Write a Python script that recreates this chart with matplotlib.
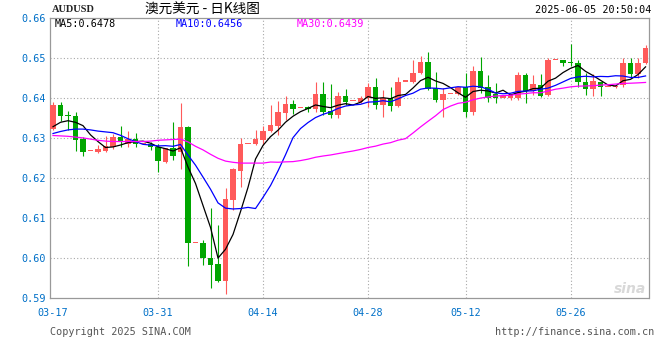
import matplotlib.pyplot as plt
import numpy as np
import pandas as pd

# daily candles, 03-17 .. 06-05 (weekend rows included, as on the chart)
opens = [
    .6323, .6383, .6359, .6357, .6298, .6268, .6266, .6269, .6278, .6304,
    .6285, .6298, .6286, .6287, .6278, .6242, .6277, .6265, .6327, .6038,
    .6038, .6002, .5986, .5944, .6146, .6219, .6286, .6285, .6296, .6318,
    .6332, .6363, .6386, .6375, .6378, .6373, .6410, .6368, .6358, .6406,
    .6393, .6392, .6400, .6429, .6383, .6400, .6381, .6442, .6442, .6463,
    .6492, .6425, .6396, .6411, .6411, .6429, .6367, .6468, .6429, .6410,
    .6402, .6400, .6402, .6458, .6418, .6433, .6408, .6496, .6495, .6492,
    .6488, .6442, .6423, .6440, .6429, .6428, .6433, .6489, .6460, .6489,
]
highs = [
    .6392, .6391, .6368, .6366, .6304, .6268, .6283, .6306, .6312, .6331,
    .6318, .6314, .6286, .6292, .6285, .6276, .6340, .6389, .6331, .6038,
    .6046, .6127, .6083, .6177, .6225, .6300, .6286, .6321, .6331, .6383,
    .6394, .6405, .6397, .6375, .6381, .6440, .6440, .6436, .6415, .6423,
    .6393, .6407, .6438, .6452, .6421, .6429, .6454, .6442, .6496, .6506,
    .6517, .6465, .6425, .6411, .6429, .6463, .6482, .6503, .6458, .6438,
    .6402, .6410, .6467, .6463, .6458, .6460, .6500, .6496, .6496, .6537,
    .6496, .6463, .6460, .6442, .6429, .6433, .6502, .6502, .6502, .6533,
]
lows = [
    .6321, .6343, .6321, .6268, .6257, .6268, .6263, .6266, .6273, .6279,
    .6279, .6279, .6286, .6270, .6217, .6239, .6246, .6223, .5982, .6038,
    .5983, .5927, .5942, .5910, .6121, .6179, .6286, .6283, .6283, .6317,
    .6308, .6345, .6362, .6375, .6365, .6367, .6358, .6350, .6350, .6383,
    .6393, .6388, .6379, .6373, .6354, .6369, .6379, .6442, .6439, .6461,
    .6421, .6392, .6354, .6411, .6408, .6354, .6358, .6413, .6392, .6388,
    .6402, .6396, .6396, .6388, .6408, .6404, .6407, .6496, .6481, .6482,
    .6429, .6408, .6407, .6407, .6429, .6425, .6429, .6450, .6450, .6485,
]
closes = [
    .6383, .6357, .6355, .6297, .6266, .6268, .6273, .6281, .6304, .6290,
    .6298, .6286, .6286, .6279, .6244, .6275, .6257, .6327, .6038, .6038,
    .6000, .5983, .5944, .6148, .6223, .6286, .6286, .6298, .6318, .6333,
    .6366, .6386, .6373, .6375, .6373, .6410, .6367, .6358, .6406, .6392,
    .6393, .6402, .6429, .6383, .6400, .6381, .6442, .6442, .6464, .6492,
    .6423, .6396, .6411, .6411, .6428, .6367, .6468, .6427, .6402, .6402,
    .6402, .6408, .6458, .6418, .6435, .6407, .6496, .6496, .6488, .6488,
    .6442, .6423, .6443, .6429, .6429, .6430, .6489, .6460, .6489, .6525,
]

# moving averages at the left edge (they depend on days before the window)
ma5_head = [.6329, .6340, .6344, .6340]
ma10_head = [.6312, .6317, .6321, .6323, .6323, .6321, .6318, .6316, .6314]
ma30_head = [
    .6307, .6306, .6305, .6303, .6301, .6298, .6295, .6293, .6292, .6292,
    .6292, .6292, .6292, .6293, .6295, .6296, .6297, .6298, .6291, .6280,
    .6271, .6260, .6250, .6243, .6240, .6238, .6238, .6238, .6238,
]

tick_pos = [0, 14, 28, 42, 55, 69]
tick_labels = ["03-17", "03-31", "04-14", "04-28", "05-12", "05-26"]
y_ticks = [0.59, 0.60, 0.61, 0.62, 0.63, 0.64, 0.65, 0.66]

ma_text = ["MA5:0.6478", "MA10:0.6456", "MA30:0.6439"]


def moving_average(values, n, head):
    s = pd.Series(values).rolling(n).mean().to_numpy()
    s[:n - 1] = head
    return s


RED = "#ff5a5a"
GREEN = "#00a600"
TICK_BLUE = "#0070c8"
GRID = "#a8a8a8"
MONO = "DejaVu Sans Mono"

fig = plt.figure(figsize=(6.6, 3.6), dpi=100)
ax = fig.add_axes([50.3 / 660, 1 - 298.3 / 360, (649.3 - 50.3) / 660, (298.3 - 18.3) / 360])

x = np.arange(len(closes))
o = np.array(opens)
c = np.array(closes)
up = c >= o
colors = np.where(up, RED, GREEN)

bottoms = np.minimum(o, c)
heights = np.maximum(np.abs(c - o), 0.0003)
ax.vlines(x, lows, highs, colors=colors, linewidth=0.8, zorder=2)
ax.bar(x, heights, bottom=bottoms, width=0.76, color=colors, linewidth=0, zorder=3)

ax.plot(x, moving_average(closes, 5, ma5_head), color="black", lw=0.9, zorder=4)
ax.plot(x, moving_average(closes, 10, ma10_head), color="#0000ff", lw=0.9, zorder=4)
ax.plot(x, moving_average(closes, 30, ma30_head), color="#ff00ff", lw=0.9, zorder=4)

ax.set_xlim(-0.36, 79.5)
ax.set_ylim(0.59, 0.66)

for yv in y_ticks[1:-1]:
    ax.axhline(yv, color=GRID, lw=0.8, ls=(0, (1, 2)), zorder=1)
for xv in tick_pos[1:]:
    ax.axvline(xv, color=GRID, lw=0.8, ls=(0, (1, 2)), zorder=1)

ax.set_yticks(y_ticks)
ax.set_yticklabels([f"{v:.2f}" for v in y_ticks])
ax.set_xticks(tick_pos)
ax.set_xticklabels(tick_labels)
ax.tick_params(axis="y", length=0, pad=3, labelsize=7.3, labelcolor=TICK_BLUE)
ax.tick_params(axis="x", length=0, pad=7, labelsize=7.3, labelcolor=TICK_BLUE)
for lab in ax.get_xticklabels() + ax.get_yticklabels():
    lab.set_family(MONO)

for side in ["left", "right", "top"]:
    ax.spines[side].set_color("#999999")
    ax.spines[side].set_linewidth(0.9)
ax.spines["bottom"].set_color("#999999")
ax.spines["bottom"].set_linestyle((0, (1, 1)))
ax.spines["bottom"].set_linewidth(0.9)

# header
fig.text(52 / 660, 1 - 10 / 360, "AUDUSD", family="Liberation Serif", fontsize=7.5,
         weight="bold", color="#222222", va="center", ha="left")
fig.text(202 / 660, 1 - 10 / 360, "澳元美元 - 日K线图",
         family=["Noto Sans CJK SC", "DejaVu Sans"], fontsize=9.8, color="black",
         va="center", ha="center")
fig.text(651 / 660, 1 - 10 / 360, "2025-06-05 20:50:04", family=MONO, fontsize=7.3,
         color="black", va="center", ha="right")

ma_colors = ["black", "#0000ff", "#ff00ff"]
ma_x = [55, 176, 297]
for t, col, xp in zip(ma_text, ma_colors, ma_x):
    fig.text(xp / 660, 1 - 24 / 360, t, family=MONO, fontsize=7.3, color=col,
             va="center", ha="left")

# footer
fig.text(50 / 660, 1 - 332 / 360, "Copyright 2025 SINA.COM", family=MONO, fontsize=7.3,
         color="#555555", va="center", ha="left")
fig.text(654 / 660, 1 - 332 / 360, "http://finance.sina.com.cn", family=MONO, fontsize=7.3,
         color="#555555", va="center", ha="right")
fig.text(646 / 660, 1 - 289 / 360, "sina", family="DejaVu Sans", fontsize=10,
         style="italic", weight="bold", color="#d8d8d8", va="center", ha="right")

fig.savefig("out.png", dpi=100)
